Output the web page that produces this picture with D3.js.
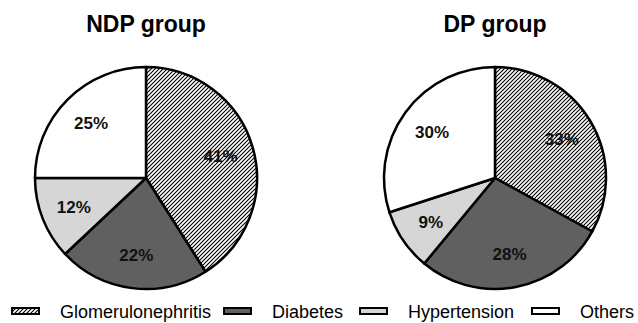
<!DOCTYPE html>
<html>
<head>
<meta charset="utf-8">
<script src="https://cdn.jsdelivr.net/npm/d3@7"></script>
<style>
  html, body { margin: 0; padding: 0; background: #fff; }
  svg { display: block; font-family: Arial, "Liberation Sans", sans-serif; }
</style>
</head>
<body>
<svg id="chart" width="638" height="323"></svg>
<script>
// Causes of end-stage kidney disease, by group (percent)
const categories = ["Glomerulonephritis", "Diabetes", "Hypertension", "Others"];
const groups = ["NDP group", "DP group"];
const ndpValues = [41, 22, 12, 25];
const dpValues = [33, 28, 9, 30];

const fills = ["url(#hatch)", "#606060", "#d6d6d6", "#ffffff"];

const svg = d3.select("#chart");
const W = 638;

// diagonal hatch used for Glomerulonephritis
const defs = svg.append("defs");
const pat = defs.append("pattern")
  .attr("id", "hatch")
  .attr("patternUnits", "userSpaceOnUse")
  .attr("width", 4).attr("height", 4);
pat.append("rect").attr("width", 4).attr("height", 4).attr("fill", "#fff");
pat.append("path")
  .attr("d", "M-1,1 l2,-2 M0,4 l4,-4 M3,5 l2,-2")
  .attr("stroke", "#000").attr("stroke-width", 1.1);

const R = 111;
const centers = [[146, 178], [495, 178]];
const datasets = [ndpValues, dpValues];

const pie = d3.pie().sort(null).value(d => d);
const arc = d3.arc().innerRadius(0).outerRadius(R);
const labelArc = d3.arc().innerRadius(R * 0.7).outerRadius(R * 0.7);

datasets.forEach((vals, gi) => {
  const [cx, cy] = centers[gi];
  const g = svg.append("g").attr("transform", `translate(${cx},${cy})`);
  const arcs = pie(vals);

  g.selectAll("path.slice")
    .data(arcs)
    .join("path")
    .attr("class", "slice")
    .attr("d", arc)
    .attr("fill", (d, i) => fills[i])
    .attr("stroke", "#000")
    .attr("stroke-width", 2.5)
    .attr("stroke-linejoin", "round");

  g.selectAll("text.pct")
    .data(arcs)
    .join("text")
    .attr("class", "pct")
    .attr("transform", d => `translate(${labelArc.centroid(d)})`)
    .attr("text-anchor", "middle")
    .attr("dy", "0.36em")
    .attr("font-size", 17)
    .attr("font-weight", "bold")
    .attr("fill", "#111")
    .text(d => d.data + "%");

  svg.append("text")
    .attr("x", cx)
    .attr("y", 32)
    .attr("text-anchor", "middle")
    .attr("font-size", 23)
    .attr("font-weight", "bold")
    .attr("fill", "#000")
    .text(groups[gi]);
});

// legend row along the bottom
const legendX = [12, 224, 360, 532];
const legend = svg.append("g");
categories.forEach((c, i) => {
  const lg = legend.append("g").attr("transform", `translate(${legendX[i]},0)`);
  lg.append("rect")
    .attr("x", 0).attr("y", 308)
    .attr("width", 27).attr("height", 6)
    .attr("fill", fills[i])
    .attr("stroke", "#000")
    .attr("stroke-width", 2);
  lg.append("text")
    .attr("x", 48).attr("y", 318)
    .attr("font-size", 18)
    .attr("fill", "#000")
    .text(c);
});
</script>
</body>
</html>
